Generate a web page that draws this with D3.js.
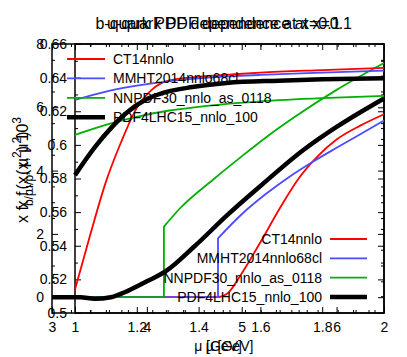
<!DOCTYPE html>
<html><head><meta charset="utf-8">
<script src="https://cdn.jsdelivr.net/npm/d3@7"></script>
<style>body{margin:0;background:#fff}</style>
</head><body><svg id="c" width="407" height="357"></svg>
<script>
// ---------- data ----------
const seriesNames = ["CT14nnlo", "MMHT2014nnlo68cl", "NNPDF30_nnlo_as_0118", "PDF4LHC15_nnlo_100"];
const seriesColors = ["#ff0000", "#4b4bff", "#00b000", "#000000"];

// Plot A: b-quark, x f(x,mu^2) * 10^3 vs mu [GeV]  (repeated mu = threshold jump)
const titleA = "b-quark PDF dependence at x=0.1";
const muA_CT14   = [3.0, 4.75, 4.85, 5.0, 5.2, 5.4, 5.6, 5.8, 6.0, 6.25, 6.5];
const valA_CT14  = [0, 0, 0.12, 0.75, 1.75, 2.8, 3.75, 4.45, 4.98, 5.42, 5.78];
const muA_MMHT   = [3.0, 4.75, 4.75, 5.0, 5.25, 5.5, 5.75, 6.0, 6.25, 6.5];
const valA_MMHT  = [0, 0, 1.86, 2.62, 3.25, 3.8, 4.28, 4.72, 5.15, 5.58];
const muA_NNPDF  = [3.0, 4.18, 4.18, 4.35, 4.7, 5.0, 5.3, 5.6, 6.0, 6.5];
const valA_NNPDF = [0, 0, 2.23, 2.81, 3.72, 4.45, 5.15, 5.78, 6.55, 7.4];
const muA_PDF4   = [3.0, 3.3, 3.45, 3.62, 3.8, 4.0, 4.2, 4.5, 4.85, 5.2, 5.65, 6.0, 6.5];
const valA_PDF4  = [0, 0, -0.05, 0, 0.2, 0.5, 0.82, 1.6, 2.6, 3.52, 4.65, 5.38, 6.28];
const xTicksA = [3, 4, 5, 6];
const yTicksA = [0, 2, 4, 6, 8];

// Plot B: u-quark, x f(x,mu^2) vs mu [GeV]
const titleB = "u-quark PDF dependence at x=0.1";
const muB_CT14   = [1.0, 1.05, 1.1, 1.15, 1.2, 1.25, 1.3, 1.4, 1.5, 1.6, 1.8, 2.0];
const valB_CT14  = [0.514, 0.547, 0.578, 0.602, 0.622, 0.633, 0.638, 0.6405, 0.6418, 0.643, 0.6445, 0.6458];
const muB_MMHT   = [1.0, 1.1, 1.2, 1.3, 1.4, 1.5, 1.6, 1.8, 2.0];
const valB_MMHT  = [0.6267, 0.6317, 0.6352, 0.6378, 0.6395, 0.6407, 0.6416, 0.643, 0.6442];
const muB_NNPDF  = [1.0, 1.1, 1.2, 1.3, 1.4, 1.5, 1.6, 1.8, 2.0];
const valB_NNPDF = [0.6059, 0.6119, 0.6166, 0.6203, 0.6226, 0.6245, 0.6259, 0.6278, 0.6291];
const muB_PDF4   = [1.0, 1.065, 1.12, 1.17, 1.227, 1.285, 1.38, 1.49, 1.66, 1.8, 2.0];
const valB_PDF4  = [0.582, 0.5988, 0.6107, 0.6196, 0.6267, 0.6309, 0.6344, 0.6368, 0.6382, 0.639, 0.6396];
const xTicksB = [1, 1.2, 1.4, 1.6, 1.8, 2];
const yTicksB = [0.5, 0.52, 0.54, 0.56, 0.58, 0.6, 0.62, 0.64, 0.66];

// ---------- drawing ----------
const FONT = '"Liberation Sans", Arial, Helvetica, sans-serif';
const svg = d3.select("#c");
svg.append("rect").attr("width", 407).attr("height", 357).attr("fill", "#fff");

const boxA = {left: 52, right: 384, top: 44, bottom: 313};
const boxB = {left: 75, right: 384, top: 44, bottom: 313};
const xA = d3.scaleLinear().domain([3, 6.5]).range([boxA.left, boxA.right]);
const yA = d3.scaleLinear().domain([-0.5, 8]).range([boxA.bottom, boxA.top]);
const xB = d3.scaleLinear().domain([1, 2]).range([boxB.left, boxB.right]);
const yB = d3.scaleLinear().domain([0.5, 0.66]).range([boxB.bottom, boxB.top]);

const xMinA = d3.range(15, 33).filter(i => i % 5 !== 0).map(i => i / 5);
const yMinA = d3.range(-1, 17).filter(i => i % 4 !== 0).map(i => i / 2);
const xMinB = d3.range(20, 41).filter(i => i % 4 !== 0).map(i => i / 20);
const yMinB = d3.range(50, 67).filter(i => i % 2 !== 0).map(i => i / 100);

function frame(box, x, y, xMaj, xMin, yMaj, yMin, fx, fy) {
  const g = svg.append("g");
  const mk = (axis, tx, ty) => {
    const a = g.append("g").attr("transform", `translate(${tx},${ty})`).call(axis);
    a.select(".domain").remove();
    a.selectAll("line").attr("stroke", "#000").attr("stroke-width", 1);
    a.selectAll("text").attr("font-family", FONT).attr("font-size", 14).attr("fill", "#000");
  };
  mk(d3.axisBottom(x).tickValues(xMaj).tickSizeInner(-6).tickSizeOuter(0).tickPadding(9).tickFormat(fx), 0, box.bottom);
  mk(d3.axisBottom(x).tickValues(xMin).tickSizeInner(-3).tickSizeOuter(0).tickFormat(""), 0, box.bottom);
  mk(d3.axisTop(x).tickValues(xMaj).tickSizeInner(-6).tickSizeOuter(0).tickFormat(""), 0, box.top);
  mk(d3.axisTop(x).tickValues(xMin).tickSizeInner(-3).tickSizeOuter(0).tickFormat(""), 0, box.top);
  mk(d3.axisLeft(y).tickValues(yMaj).tickSizeInner(-6).tickSizeOuter(0).tickPadding(8).tickFormat(fy), box.left, 0);
  mk(d3.axisLeft(y).tickValues(yMin).tickSizeInner(-3).tickSizeOuter(0).tickFormat(""), box.left, 0);
  mk(d3.axisRight(y).tickValues(yMaj).tickSizeInner(-6).tickSizeOuter(0).tickFormat(""), box.right, 0);
  mk(d3.axisRight(y).tickValues(yMin).tickSizeInner(-3).tickSizeOuter(0).tickFormat(""), box.right, 0);
  g.append("rect").attr("x", box.left).attr("y", box.top)
    .attr("width", box.right - box.left).attr("height", box.bottom - box.top)
    .attr("fill", "none").attr("stroke", "#000").attr("stroke-width", 1.5);
}
const fmtNum = v => String(+v.toFixed(2));
frame(boxA, xA, yA, xTicksA, xMinA, yTicksA, yMinA, fmtNum, fmtNum);
frame(boxB, xB, yB, xTicksB, xMinB, yTicksB, yMinB, fmtNum, fmtNum);

function pathFor(mu, val, x, y) {
  const pts = mu.map((m, i) => [m, val[i]]);
  const segs = []; let cur = [pts[0]];
  for (let i = 1; i < pts.length; i++) {
    if (pts[i][0] === pts[i - 1][0]) { segs.push(cur); cur = [pts[i]]; }
    else cur.push(pts[i]);
  }
  segs.push(cur);
  const gen = d3.line().x(d => x(d[0])).y(d => y(d[1])).curve(d3.curveMonotoneX);
  return segs.map((s, k) => { const p = gen(s); return k ? "L" + p.slice(1) : p; }).join("");
}

const seriesA = [[muA_CT14, valA_CT14], [muA_MMHT, valA_MMHT], [muA_NNPDF, valA_NNPDF], [muA_PDF4, valA_PDF4]];
const seriesB = [[muB_CT14, valB_CT14], [muB_MMHT, valB_MMHT], [muB_NNPDF, valB_NNPDF], [muB_PDF4, valB_PDF4]];
const widths = [1.8, 1.8, 1.8, 4.5];

function drawSeries(list, x, y) {
  list.forEach((s, i) => {
    svg.append("path").attr("d", pathFor(s[0], s[1], x, y))
      .attr("fill", "none").attr("stroke", seriesColors[i]).attr("stroke-width", widths[i])
      .attr("stroke-linejoin", "round");
  });
}
drawSeries(seriesA, xA, yA);
drawSeries(seriesB, xB, yB);

// legends
seriesNames.forEach((n, i) => {
  const ya = 59 + i * 19.4;
  svg.append("line").attr("x1", 67).attr("x2", 105).attr("y1", ya).attr("y2", ya)
    .attr("stroke", seriesColors[i]).attr("stroke-width", widths[i]);
  svg.append("text").attr("x", 113).attr("y", ya).attr("dy", "0.36em")
    .attr("font-family", FONT).attr("font-size", 14).text(n);
  const yb = 239 + i * 19.3;
  svg.append("line").attr("x1", 330).attr("x2", 367).attr("y1", yb).attr("y2", yb)
    .attr("stroke", seriesColors[i]).attr("stroke-width", widths[i]);
  svg.append("text").attr("x", 322).attr("y", yb).attr("dy", "0.36em").attr("text-anchor", "end")
    .attr("font-family", FONT).attr("font-size", 14).text(n);
});

// titles and x labels
[[titleA, boxA], [titleB, boxB]].forEach(([t, b]) => {
  svg.append("text").attr("x", (b.left + b.right) / 2).attr("y", 29).attr("text-anchor", "middle")
    .attr("font-family", FONT).attr("font-size", 16).text(t);
  svg.append("text").attr("x", (b.left + b.right) / 2).attr("y", 351).attr("text-anchor", "middle")
    .attr("font-family", FONT).attr("font-size", 14).text("μ [GeV]");
});

// y labels (parts: [text, shift] with shift 0 = baseline, 1 = subscript, -1 = superscript)
function ylabel(parts) {
  const t = svg.append("text").attr("transform", "translate(28,170) rotate(-90)")
    .attr("text-anchor", "middle").attr("font-family", FONT).attr("font-size", 16);
  let off = 0;
  parts.forEach(p => {
    const target = p[1] === 1 ? 5 : p[1] === -1 ? -7 : 0;
    t.append("tspan").attr("font-size", p[1] ? 12 : 16).attr("dy", target - off).text(p[0]);
    off = target;
  });
}
ylabel([["x f", 0], ["b/p", 1], ["(x, μ", 0], ["2", -1], [")  10", 0], ["3", -1]]);
ylabel([["x f", 0], ["u/p", 1], ["(x, μ", 0], ["2", -1], [")", 0]]);
</script>
</body></html>
